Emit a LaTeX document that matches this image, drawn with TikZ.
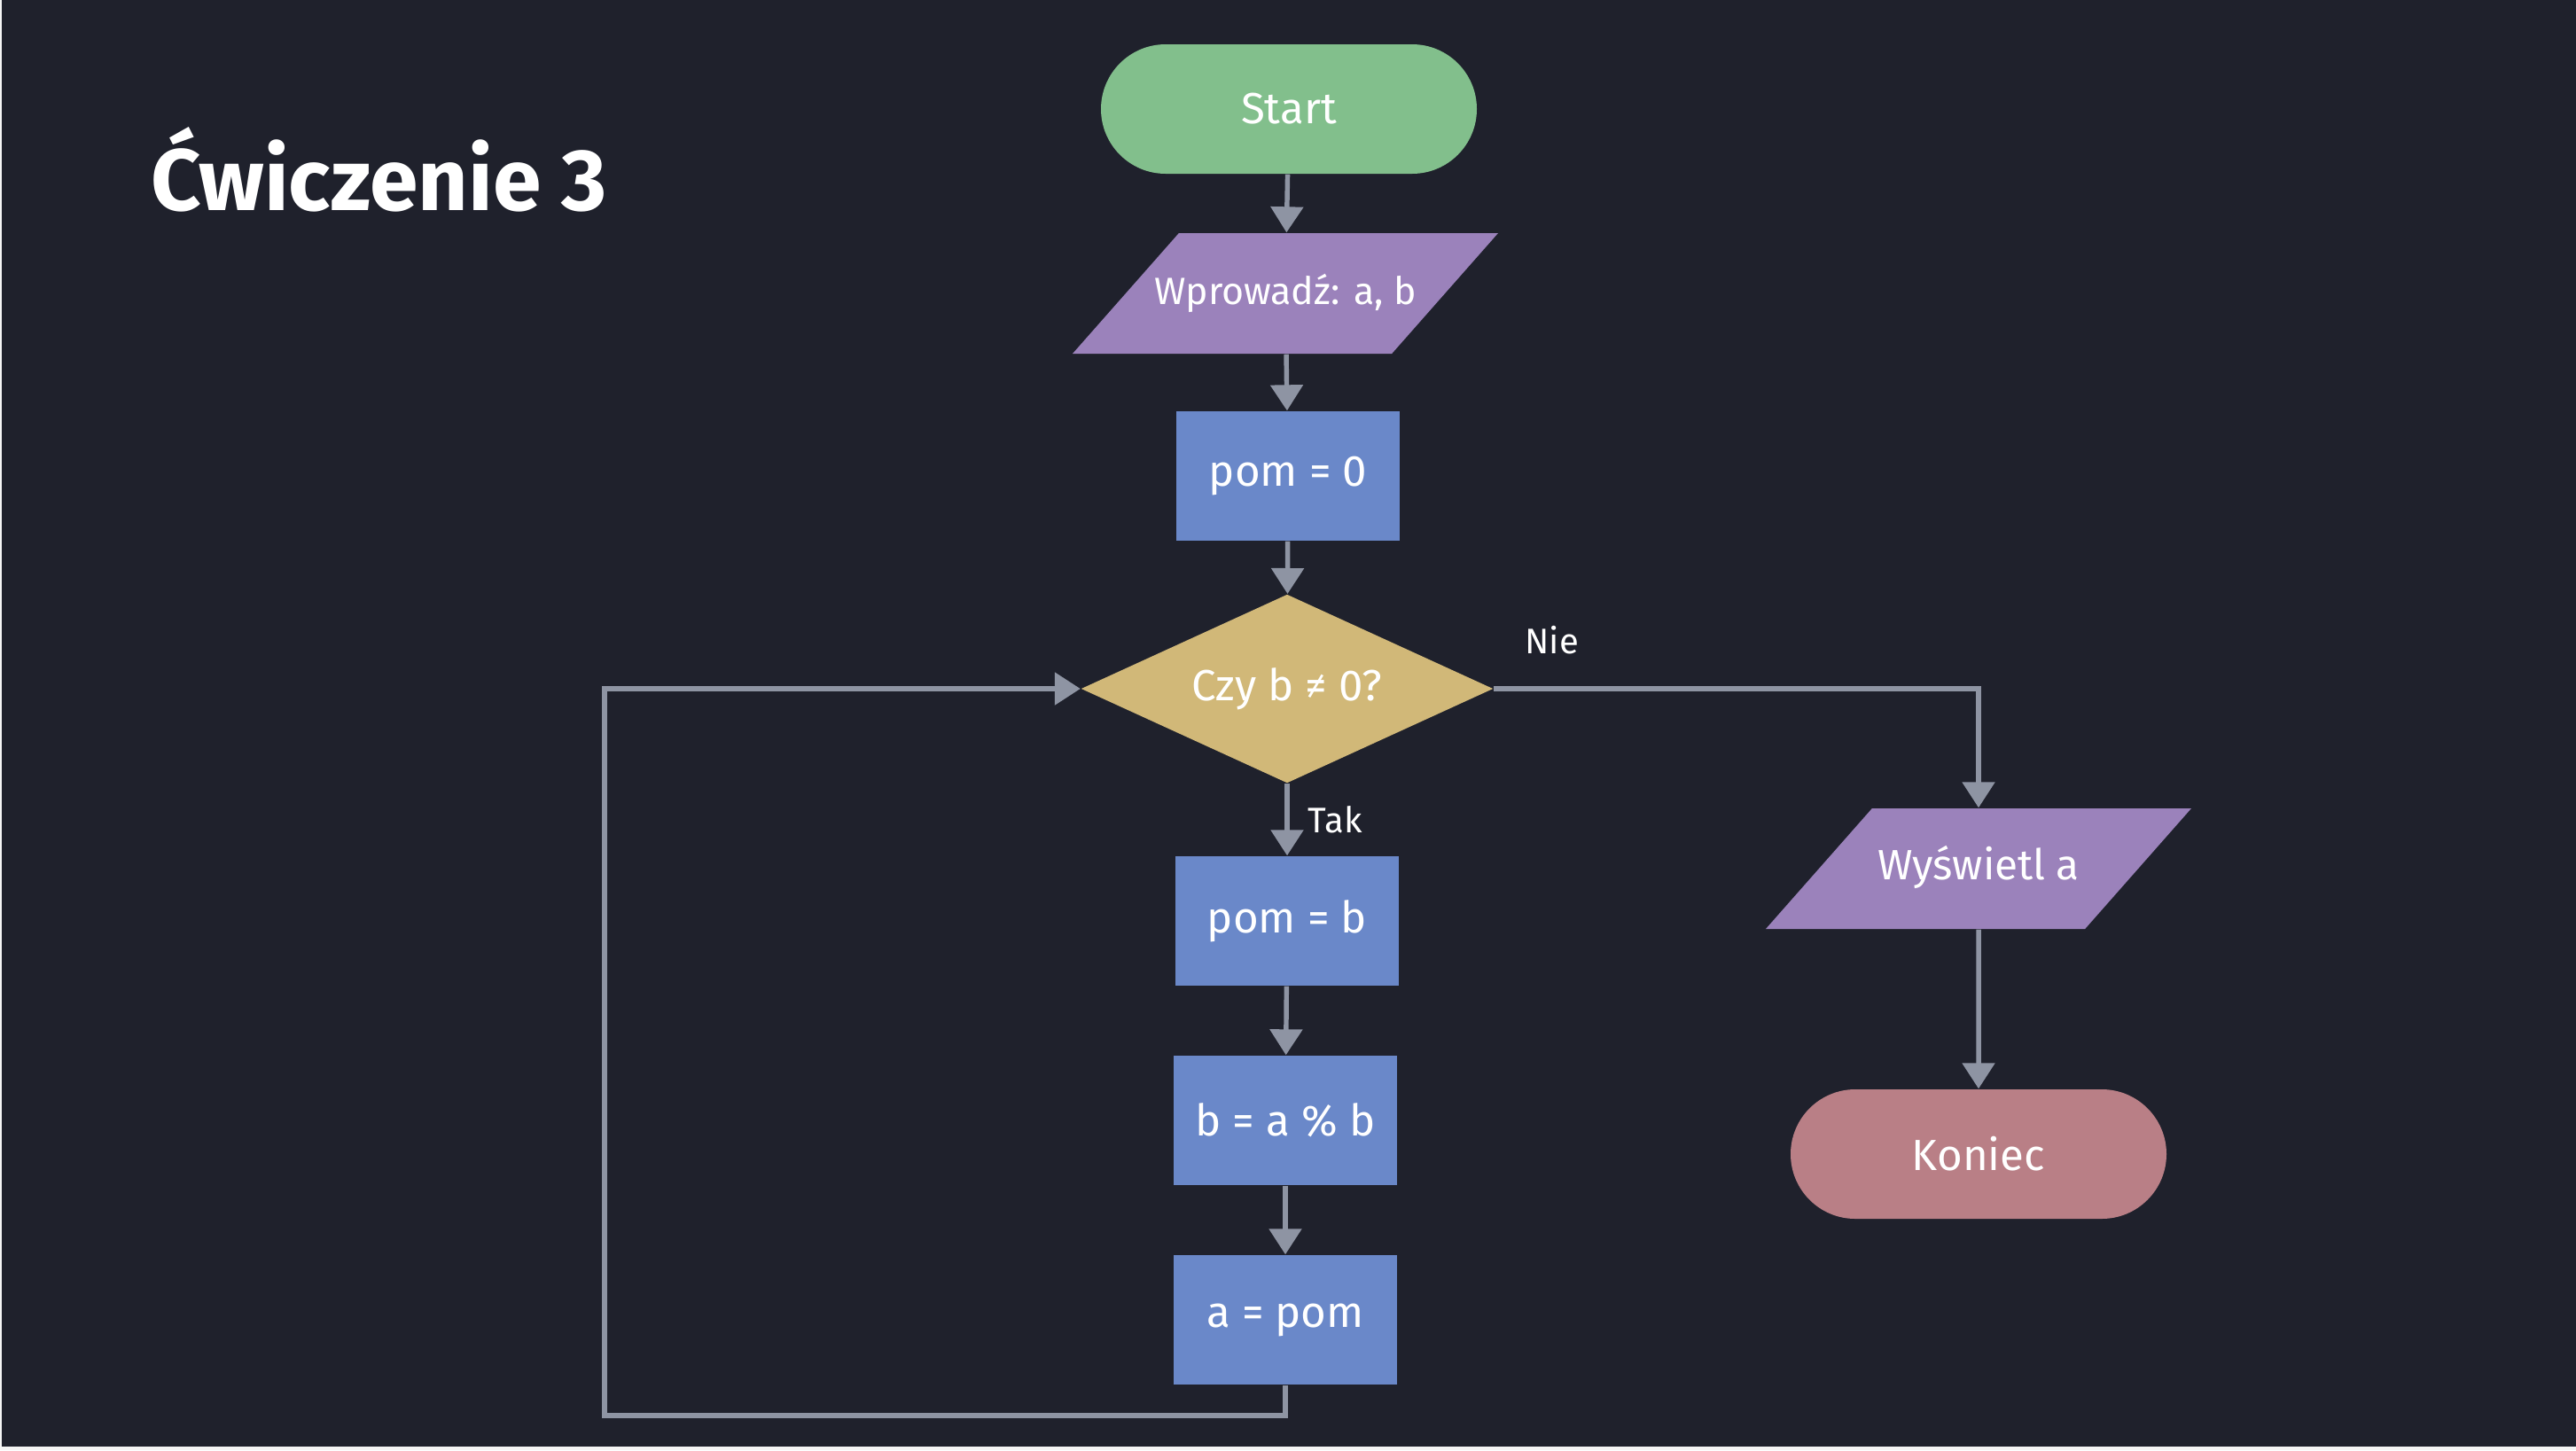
\documentclass[tikz,border=0pt]{standalone}
\usepackage{fontspec}
\setmainfont{Fira Sans}
\usetikzlibrary{shapes.geometric,shapes.misc,arrows.meta}
\definecolor{tlo}{HTML}{1F212C}
\definecolor{linia}{HTML}{8E94A3}
\definecolor{zielony}{HTML}{82BF8C}
\definecolor{fiolet}{HTML}{9B82BB}
\definecolor{niebieski}{HTML}{6A88C9}
\definecolor{zloty}{HTML}{D1B878}
\definecolor{rozowy}{HTML}{B97F86}

\begin{document}
\begin{tikzpicture}[x=1cm, y=-1cm,
  every node/.style={text=white, inner sep=0pt},
  termin/.style={rounded rectangle, fill=#1, minimum width=4.24cm, minimum height=1.46cm,
                 font=\fontsize{14}{16}\selectfont},
  krok/.style={rectangle, fill=niebieski, minimum width=2.52cm, minimum height=1.46cm,
               font=\fontsize{14}{16}\selectfont},
  wejscie/.style={trapezium, trapezium left angle=48.6, trapezium right angle=131.4,
                  trapezium stretches body, fill=fiolet, text height=0.32cm, text depth=0.08cm,
                  inner xsep=-0.3cm, inner ysep=0.48cm, minimum width=4.8cm},
  warunek/.style={diamond, aspect=2.18, fill=zloty, minimum width=4.65cm, minimum height=2.13cm,
                  font=\fontsize{14}{16}\selectfont},
  strz/.style={draw=linia, line width=1.55pt, -{Triangle[width=0.36cm, length=0.29cm]}},
  etyk/.style={font=\fontsize{11.4}{13}\selectfont}]
  \fill[white!96!black] (0,0) rectangle (29.06,16.36);
  \fill[tlo] (0.02,0) rectangle (29.06,16.32);

  \node[anchor=base west, font=\fontsize{28}{32}\selectfont\bfseries] (tytul) at (1.70,2.37) {Ćwiczenie 3};

  \node[termin=zielony] (start) at (14.54,1.23) {Start};
  \node[wejscie, font=\fontsize{12.2}{14}\selectfont] (wczyt) at (14.50,3.31) {Wprowadź: a, b};
  \node[krok] (pom0) at (14.53,5.37) {pom = 0};
  \node[warunek] (war) at (14.52,7.77) {Czy b ≠ 0?};
  \node[krok] (pomb) at (14.52,10.39) {pom = b};
  \node[krok] (reszta) at (14.50,12.64) {b = a \% b};
  \node[krok] (apom) at (14.50,14.89) {a = pom};
  \node[wejscie, font=\fontsize{13.6}{15}\selectfont] (wypisz) at (22.32,9.80) {Wyświetl a};
  \node[termin=rozowy] (koniec) at (22.32,13.02) {Koniec};
  \coordinate (powrot) at (6.82,15.97);

  \foreach \a/\b in {start/wczyt, wczyt/pom0, pom0/war, pomb/reszta, reszta/apom, wypisz/koniec}
    \draw[strz] (\a) -- (\b);
  \draw[strz] (war) -- node[etyk, right=0.21cm] (tak) {Tak} (pomb);
  \draw[strz] (war.east) -| node[etyk, pos=0.06, above=0.36cm] (nie) {Nie} (wypisz);
  \draw[strz] (apom.south) |- (powrot) |- (war.west);
\end{tikzpicture}
\end{document}
